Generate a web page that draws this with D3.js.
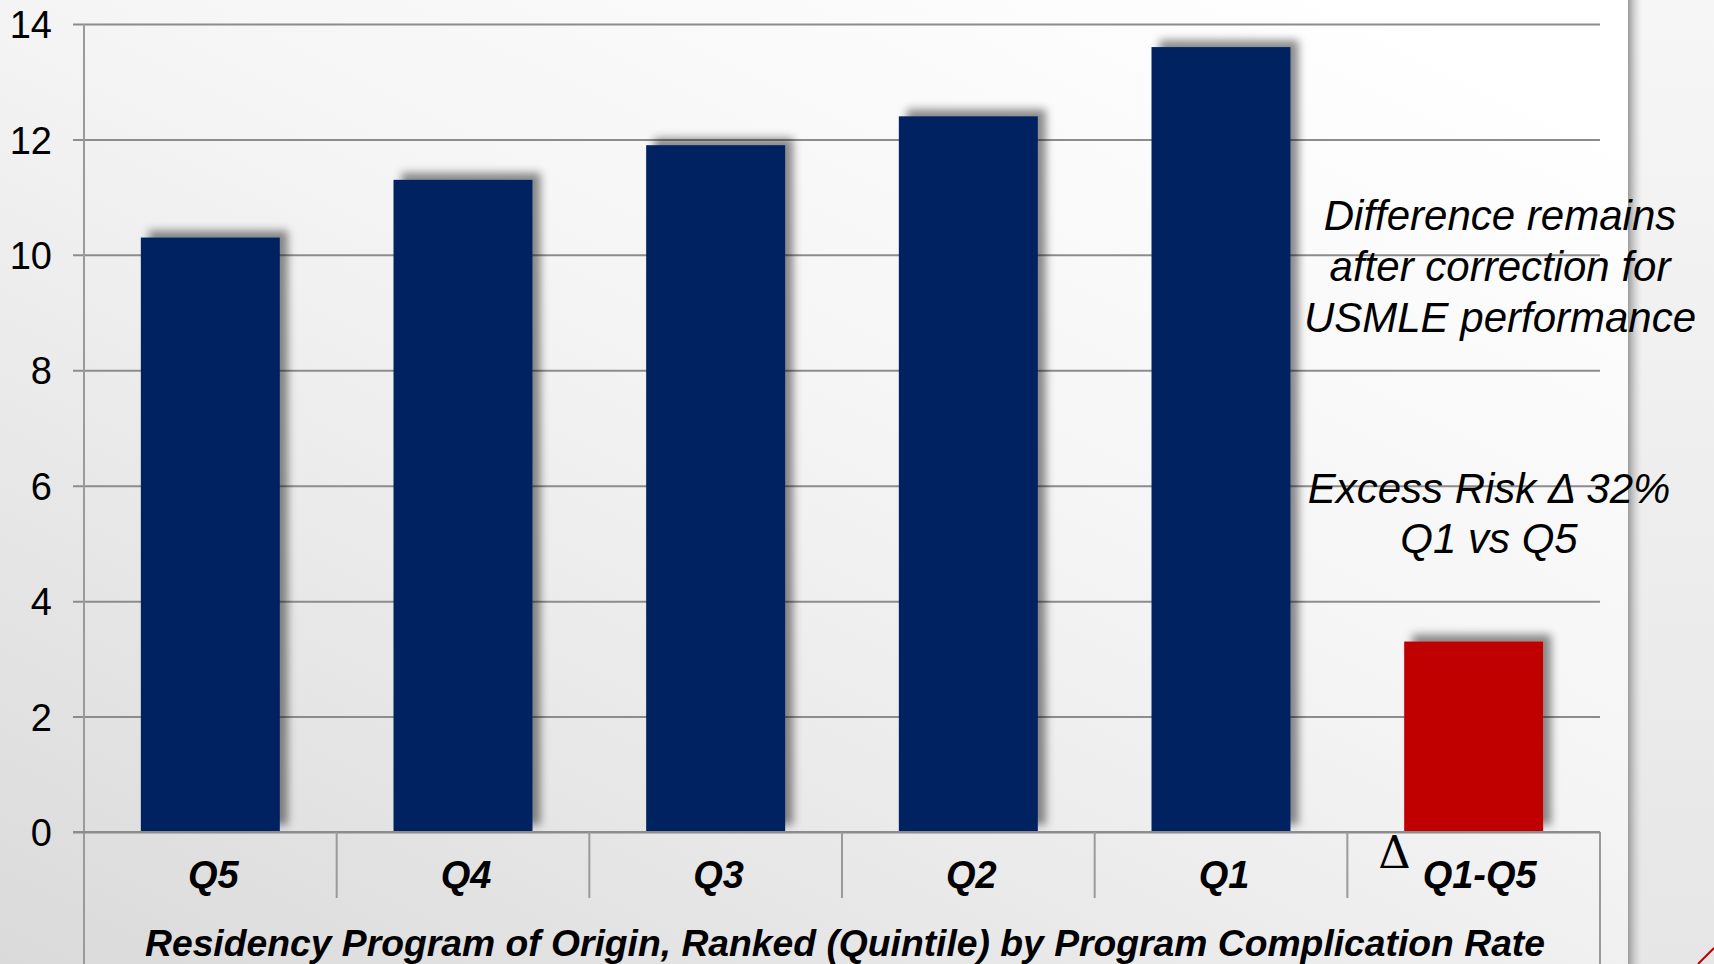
<!DOCTYPE html>
<html>
<head>
<meta charset="utf-8">
<script src="https://cdn.jsdelivr.net/npm/d3@7"></script>
<style>
  html, body { margin: 0; padding: 0; background: #ececec; overflow: hidden; }
  svg { display: block; font-family: "Liberation Sans", Arial, sans-serif; }
</style>
</head>
<body>
<div id="plot"></div>
<script>
// chart data
const categories = ["Q5", "Q4", "Q3", "Q2", "Q1", "Q1-Q5"];
const values = [10.3, 11.3, 11.9, 12.4, 13.6, 3.3];
const barColors = ["#002060", "#002060", "#002060", "#002060", "#002060", "#C00000"];
const yTicks = [0, 2, 4, 6, 8, 10, 12, 14];
const noteTop = ["Difference remains", "after correction for", "USMLE performance"];
const noteBottom = ["Excess Risk \u0394 32%", "Q1 vs Q5"];
const axisTitle = "Residency Program of Origin, Ranked (Quintile) by Program Complication Rate";

const width = 1714;
const height = 964;
const margin = { top: 24, right: 114, bottom: 130, left: 84 };
const innerWidth = width - margin.left - margin.right;
const innerHeight = height - margin.top - margin.bottom;
const fontFam = '"Liberation Sans", Arial, sans-serif';

const svg = d3.select('#plot').append('svg')
  .attr('width', width)
  .attr('height', height);

const defs = svg.append('defs');
const bg = defs.append('linearGradient')
  .attr('id', 'bg')
  .attr('x1', '0').attr('y1', '1').attr('x2', '0.85').attr('y2', '0');
bg.append('stop').attr('offset', '0').attr('stop-color', '#dadada');
bg.append('stop').attr('offset', '0.6').attr('stop-color', '#f5f5f5');
bg.append('stop').attr('offset', '1').attr('stop-color', '#ffffff');

const side = defs.append('linearGradient')
  .attr('id', 'side')
  .attr('x1', '0').attr('y1', '0').attr('x2', '0').attr('y2', '1');
side.append('stop').attr('offset', '0').attr('stop-color', '#f6f6f6');
side.append('stop').attr('offset', '1').attr('stop-color', '#e6e6e6');

const edge = defs.append('linearGradient')
  .attr('id', 'edge')
  .attr('x1', '0').attr('y1', '0').attr('x2', '1').attr('y2', '0');
edge.append('stop').attr('offset', '0').attr('stop-color', '#9a9a9a').attr('stop-opacity', 1);
edge.append('stop').attr('offset', '1').attr('stop-color', '#cfcfcf').attr('stop-opacity', 0);

const shadow = defs.append('filter')
  .attr('id', 'shadow')
  .attr('x', '-20%').attr('y', '-20%').attr('width', '150%').attr('height', '140%');
shadow.append('feDropShadow')
  .attr('dx', 8).attr('dy', -7)
  .attr('stdDeviation', 4)
  .attr('flood-color', '#000')
  .attr('flood-opacity', 0.45);

// background panels
svg.append('rect')
  .attr('width', 1630).attr('height', height)
  .attr('fill', 'url(#bg)');
svg.append('rect')
  .attr('x', 1630).attr('width', width - 1630).attr('height', height)
  .attr('fill', 'url(#side)');
svg.append('rect')
  .attr('x', 1628).attr('width', 14).attr('height', height)
  .attr('fill', 'url(#edge)');
svg.append('path')
  .attr('d', 'M1698,964 L1714,948')
  .attr('stroke', '#c00000')
  .attr('stroke-width', 2)
  .attr('fill', 'none');

const g = svg.append('g')
  .attr('transform', `translate(${margin.left}, ${margin.top})`);

const x = d3.scaleBand()
  .domain(categories)
  .range([0, innerWidth])
  .paddingInner(0.45)
  .paddingOuter(0.225);

const y = d3.scaleLinear()
  .domain([0, 14])
  .range([innerHeight - 2, 0]);

// gridlines + y ticks
const yAxis = d3.axisLeft(y)
  .tickValues(yTicks)
  .tickSize(-innerWidth)
  .tickSizeOuter(0)
  .tickPadding(32)
  .tickFormat(d3.format('d'));

const yG = g.append('g').call(yAxis);
yG.select('.domain').remove();
yG.attr('font-family', fontFam).attr('font-size', 38);
yG.selectAll('.tick line')
  .attr('x1', -11)
  .attr('stroke', '#8c8c8c')
  .attr('stroke-width', 2);
yG.selectAll('.tick text')
  .attr('fill', '#000')
  .attr('dy', '0.36em');

// left axis line
g.append('line')
  .attr('x1', 0).attr('x2', 0)
  .attr('y1', 0).attr('y2', height - margin.top)
  .attr('stroke', '#9a9a9a')
  .attr('stroke-width', 2);
// right end line below baseline
g.append('line')
  .attr('x1', innerWidth).attr('x2', innerWidth)
  .attr('y1', y(0)).attr('y2', height - margin.top)
  .attr('stroke', '#9a9a9a')
  .attr('stroke-width', 2);

// bars
g.selectAll('.bar').data(values)
  .enter().append('rect')
  .attr('class', 'bar')
  .attr('x', (d, i) => x(categories[i]))
  .attr('y', d => y(d))
  .attr('width', x.bandwidth())
  .attr('height', d => y(0) - y(d))
  .attr('fill', (d, i) => barColors[i])
  .attr('filter', 'url(#shadow)');

// baseline
g.append('line')
  .attr('x1', -11).attr('x2', innerWidth)
  .attr('y1', y(0)).attr('y2', y(0))
  .attr('stroke', '#8c8c8c')
  .attr('stroke-width', 2);

// category separators
const step = x.step();
g.selectAll('.sep').data(d3.range(1, categories.length))
  .enter().append('line')
  .attr('class', 'sep')
  .attr('x1', d => d * step).attr('x2', d => d * step)
  .attr('y1', y(0)).attr('y2', y(0) + 66)
  .attr('stroke', '#9a9a9a')
  .attr('stroke-width', 2);

// category labels
g.selectAll('.cat').data(categories)
  .enter().append('text')
  .attr('class', 'cat')
  .attr('x', (d, i) => i === categories.length - 1 ? x(d) + x.bandwidth() / 2 + 6 : x(d) + x.bandwidth() / 2 + 3)
  .attr('y', y(0) + 56)
  .attr('text-anchor', 'middle')
  .attr('font-family', fontFam)
  .attr('font-size', 38)
  .attr('font-weight', 'bold')
  .attr('font-style', 'italic')
  .text(d => d);

// delta mark on last category
const last = categories[categories.length - 1];
g.append('text')
  .attr('x', x(last) - 26)
  .attr('y', y(0) + 36)
  .attr('font-size', 45)
  .attr('font-family', '"DejaVu Serif", "Liberation Serif", serif')
  .text('\u0394');

// axis title
g.append('text')
  .attr('x', innerWidth / 2 + 3)
  .attr('y', height - margin.top - 8)
  .attr('text-anchor', 'middle')
  .attr('font-family', fontFam)
  .attr('font-size', 36)
  .attr('font-weight', 'bold')
  .attr('font-style', 'italic')
  .attr('textLength', 1400)
  .attr('lengthAdjust', 'spacingAndGlyphs')
  .text(axisTitle);

// annotations
const notes = svg.append('g')
  .attr('font-family', fontFam)
  .attr('font-style', 'italic')
  .attr('font-size', 42)
  .attr('text-anchor', 'middle');
notes.selectAll('.n1').data(noteTop)
  .enter().append('text')
  .attr('class', 'n1')
  .attr('x', 1500)
  .attr('y', (d, i) => 230 + i * 51)
  .text(d => d);
notes.selectAll('.n2').data(noteBottom)
  .enter().append('text')
  .attr('class', 'n2')
  .attr('x', 1489)
  .attr('y', (d, i) => 503 + i * 50)
  .text(d => d);
</script>
</body>
</html>
